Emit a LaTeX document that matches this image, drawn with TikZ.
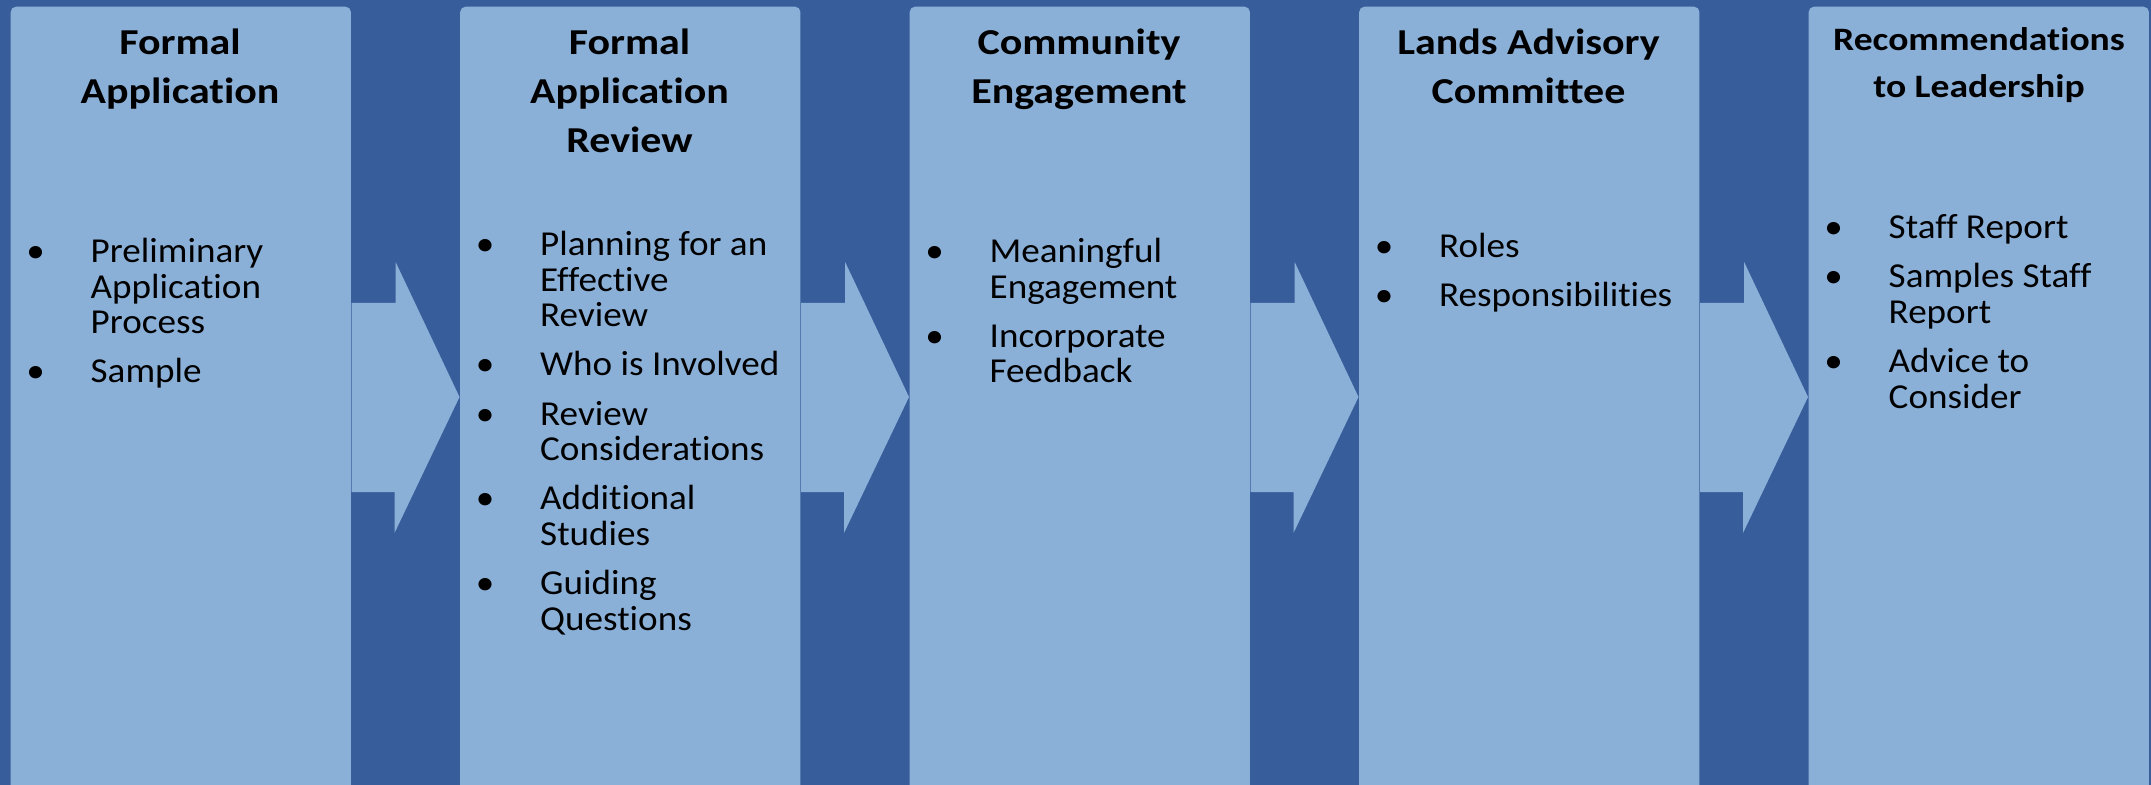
\documentclass[tikz,border=0pt]{standalone}
\usepackage{fontspec}
\setmainfont{Carlito}
\newfontfamily\headfont[FakeStretch=1.15, Ligatures=NoCommon]{Carlito}
\newfontfamily\bodyfont[FakeStretch=1.06, Ligatures=NoCommon]{Carlito}
\usepackage{tikz}
\usetikzlibrary{calc, positioning}
\definecolor{deepblue}{RGB}{55,94,155}
\definecolor{paleblue}{RGB}{139,176,216}
\newcommand{\bul}{\llap{\makebox[0.55cm][l]{\makebox[0pt]{\textbullet}}}}
\newcommand{\htop}{\rule{0pt}{11pt}}
\newcommand{\ltop}{\rule{0pt}{8.5pt}}

\begin{document}
\begin{tikzpicture}[x=0.01cm, y=-0.01cm,
    panel/.style={anchor=north west, fill=paleblue, minimum width=3.4cm, minimum height=8.2cm, rounded corners=1.5pt, inner sep=0pt},
    head/.style={anchor=north, align=center, inner sep=0pt, font=\headfont\bfseries\fontsize{10.38pt}{13.94pt}\selectfont},
    items/.style={anchor=north west, align=left, inner sep=0pt, font=\bodyfont\fontsize{9.96pt}{10.1pt}\selectfont},
    flow/.style={fill=paleblue}]
    \useasboundingbox (0,0) rectangle (2151,785);
    \clip (0,0) rectangle (2151,785);
    \fill[deepblue] (0,0) rectangle (2151,785);

    % the five stages
    \draw (10,6) node[panel] (fa) {};
    \draw (459.5,6) node[panel] (far) {};
    \draw (909,6) node[panel] (ce) {};
    \draw (1358.5,6) node[panel] (lac) {};
    \draw (1808,6) node[panel] (rl) {};

    % block arrows between stages
    \fill[flow] (fa.east |- 0,303) -- ++(44,0) -- ++(0,-41) -- (far.west |- 0,397) -- ++(-65,136) -- ++(0,-41) -- (fa.east |- 0,492) -- cycle;
    \fill[flow] (far.east |- 0,303) -- ++(44,0) -- ++(0,-41) -- (ce.west |- 0,397) -- ++(-65,136) -- ++(0,-41) -- (far.east |- 0,492) -- cycle;
    \fill[flow] (ce.east |- 0,303) -- ++(44,0) -- ++(0,-41) -- (lac.west |- 0,397) -- ++(-65,136) -- ++(0,-41) -- (ce.east |- 0,492) -- cycle;
    \fill[flow] (lac.east |- 0,303) -- ++(44,0) -- ++(0,-41) -- (rl.west |- 0,397) -- ++(-65,136) -- ++(0,-41) -- (lac.east |- 0,492) -- cycle;

    % headings
    \draw (180,15.3) node[head] (fa-h) {\htop Formal\\Application};
    \draw (629.5,15.3) node[head] (far-h) {\htop Formal\\Application\\Review};
    \draw (1079,15.3) node[head] (ce-h) {\htop Community\\Engagement};
    \draw (1528.5,15.3) node[head] (lac-h) {\htop Lands Advisory\\Committee};
    \draw (1979,11.3) node[head, font=\headfont\bfseries\fontsize{9.3pt}{13.37pt}\selectfont] (rl-h) {\htop Recommendations\\to Leadership};

    % bullet lists
    \draw (90,232.1) node[items] (fa-l) {\ltop\bul Preliminary\\Application\\Process\\[3.9pt]\bul Sample};
    \draw (539.5,225.1) node[items] (far-l) {\ltop\bul Planning for an\\Effective\\Review\\[3.9pt]\bul Who is Involved\\[3.9pt]\bul Review\\Considerations\\[3.9pt]\bul Additional\\Studies\\[3.9pt]\bul Guiding\\Questions};
    \draw (989,232.1) node[items] (ce-l) {\ltop\bul Meaningful\\Engagement\\[3.9pt]\bul Incorporate\\Feedback};
    \draw (1438.5,227.1) node[items] (lac-l) {\ltop\bul Roles\\[3.9pt]\bul Responsibilities};
    \draw (1888,208.1) node[items] (rl-l) {\ltop\bul Staff Report\\[3.9pt]\bul Samples Staff\\Report\\[3.9pt]\bul Advice to\\Consider};
\end{tikzpicture}
\end{document}
